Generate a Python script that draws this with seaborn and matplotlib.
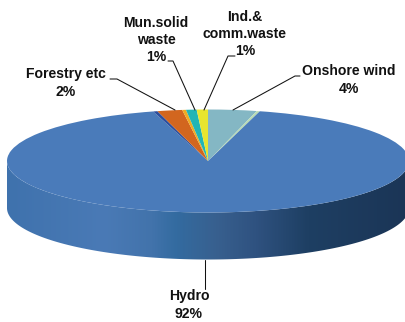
import numpy as np
import matplotlib
matplotlib.use("Agg")
import matplotlib.pyplot as plt
from matplotlib.colors import LinearSegmentedColormap
from matplotlib.patches import PathPatch
from matplotlib.path import Path
import seaborn as sns

sns.set_theme(style="white")
plt.rcParams["font.family"] = ["Liberation Sans", "DejaVu Sans"]

# Shares clockwise from twelve o'clock
sources = ["Onshore wind", "Offshore wind", "Hydro", "Solar", "Forestry etc",
           "Biogas", "Mun.solid waste", "Ind.& comm.waste"]
shares = [3.9, 0.25, 91.45, 0.35, 2.0, 0.3, 0.85, 0.9]
colors = ["#84b7c4", "#b9dcb4", "#4a7bba", "#2c4f9e", "#d2661f",
          "#f0ac22", "#22b5b5", "#e8e52e"]

label_text = ["Onshore wind\n4%", "Hydro\n92%", "Forestry etc\n2%",
              "Mun.solid\nwaste\n1%", "Ind.&\ncomm.waste\n1%"]
label_xy = [(349, 80), (189, 305), (66, 83), (156, 40), (245, 34)]
leader_paths = [[(300, 76), (295, 76), (233, 110)],
                [(205.5, 260), (205.5, 289)],
                [(110, 79), (117, 79), (175, 110)],
                [(168, 61), (173, 61), (195, 110)],
                [(235, 56), (228, 56), (204, 110)]]

side_stops = [(0.00, "#3f72ad"), (0.24, "#4a7ab6"), (0.36, "#4273ab"), (0.42, "#336ba0"),
              (0.52, "#38608f"), (0.62, "#2f5280"), (0.75, "#1e3f63"), (1.00, "#1b3556")]

W, H = 406, 322
cx, cy, rx, ry, depth = 208.0, 161.0, 201.0, 51.5, 47.0

fig = plt.figure(figsize=(W / 100, H / 100), dpi=100, facecolor="white")

# Pixel-space layer holding the rim
base = fig.add_axes([0, 0, 1, 1], zorder=1)
base.axis("off")

theta = np.linspace(np.pi, 0, 240)
rim_x = cx + rx * np.cos(theta)
rim_y = cy + ry * np.sin(theta)
verts = list(zip(rim_x, rim_y)) + [(x, y + depth) for x, y in zip(rim_x[::-1], rim_y[::-1])]
rim_clip = PathPatch(Path(verts + [verts[0]], closed=True), fc="none", ec="none")
base.add_patch(rim_clip)
side_cmap = LinearSegmentedColormap.from_list("rim", side_stops)
band = base.imshow(np.linspace(0, 1, 400)[None, :], cmap=side_cmap, aspect="auto",
                   extent=(cx - rx, cx + rx, cy + ry + depth + 2, cy - 2), zorder=1)
band.set_clip_path(rim_clip)
base.set_xlim(0, W)
base.set_ylim(H, 0)

# Top face: a unit pie stretched into an ellipse by non-equal axis scaling
top = fig.add_axes([0, 0, 1, 1], zorder=2)
top.patch.set_alpha(0)
top.pie(shares, colors=colors, startangle=90, counterclock=False, radius=1.0,
        wedgeprops={"linewidth": 0})
top.set_aspect("auto")
top.set_xlim((0 - cx) / rx, (W - cx) / rx)
top.set_ylim((cy - H) / ry, cy / ry)
top.axis("off")

# Leaders and labels sit above the pie face
over = fig.add_axes([0, 0, 1, 1], zorder=3)
over.patch.set_alpha(0)
over.set_xlim(0, W)
over.set_ylim(H, 0)
over.axis("off")
for path in leader_paths:
    xs, ys = zip(*path)
    over.plot(xs, ys, color="#111111", lw=0.75, solid_joinstyle="miter")
for text, (x, y) in zip(label_text, label_xy):
    over.text(x, y, text, ha="center", va="center", fontsize=10.1, fontweight="bold",
              color="#111111", linespacing=1.28)

fig.savefig("out.png", dpi=100)
